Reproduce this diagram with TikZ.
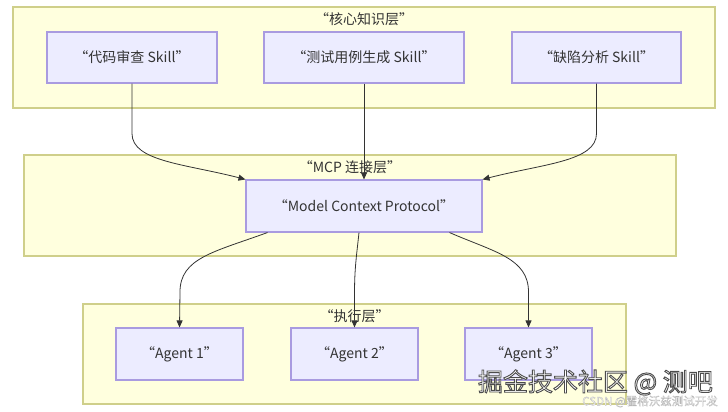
\documentclass[tikz,border=0pt]{standalone}
\usepackage{fontspec}
\setmainfont{Noto Sans CJK SC}
\usetikzlibrary{arrows.meta,calc}
\definecolor{clfill}{HTML}{FFFFDE}
\definecolor{cldraw}{HTML}{CFCF8A}
\definecolor{ndfill}{HTML}{ECECFF}
\definecolor{nddraw}{HTML}{A99BE0}
\definecolor{txt}{HTML}{333333}
\definecolor{edge}{HTML}{333333}
\newcommand{\outlinetext}[2]{\special{pdf:literal direct 2 Tr #1 w #2 G}}
\newcommand{\plaintext}{\special{pdf:literal direct 0 Tr}}
\tikzset{
  cluster/.style={draw=cldraw, fill=clfill, line width=1.4pt, inner sep=0pt},
  nbox/.style={draw=nddraw, fill=ndfill, line width=1.1pt, inner sep=0pt, minimum height=51pt, text=txt, font=\fontsize{14}{16}\selectfont},
  ctitle/.style={text=txt, font=\fontsize{14}{16}\selectfont, inner sep=0pt},
  arr/.style={draw=edge, line width=0.8pt, -{Triangle[length=7pt,width=6pt]}},
}
\begin{document}
\begin{tikzpicture}[x=1pt,y=-1pt]
\useasboundingbox (0,0) rectangle (728,412);
% clusters
\node[cluster, minimum width=702pt, minimum height=101pt] (ck) at (364,57.5) {};
\node[cluster, minimum width=652pt, minimum height=101pt] (cm) at (350,205.5) {};
\node[cluster, minimum width=543pt, minimum height=100pt] (ce) at (354.5,354) {};
\node[ctitle] (tk) at (364,19) {“核心知识层”};
\node[ctitle] (tm) at (350,167) {“MCP 连接层”};
\node[ctitle] (te) at (354.5,316) {“执行层”};
% nodes
\node[nbox, minimum width=170pt] (s1) at (132,57.5) {“代码审查 Skill”};
\node[nbox, minimum width=200pt] (s2) at (364,57.5) {“测试用例生成 Skill”};
\node[nbox, minimum width=169pt] (s3) at (596.5,57.5) {“缺陷分析 Skill”};
\node[nbox, minimum width=236pt, minimum height=52pt] (mcp) at (364,206) {“Model Context Protocol”};
\node[nbox, minimum width=127pt, minimum height=52pt] (a1) at (179.5,354) {“Agent 1”};
\node[nbox, minimum width=127pt, minimum height=52pt] (a2) at (354.5,354) {“Agent 2”};
\node[nbox, minimum width=127pt, minimum height=52pt] (a3) at (528.5,354) {“Agent 3”};
% edges top
\draw[arr] (s1.south) -- ++(0,50) .. controls +(0,28) and (186,164) .. (mcp.north west);
\draw[arr] (s2.south) -- (mcp.north);
\draw[arr] (s3.south) -- ++(0,50) .. controls +(0,28) and (542,164) .. (mcp.north east);
% edges bottom
\draw[arr] ($(mcp.south west)+(22,0)$) .. controls (214,252) and (180,258) .. (180,292) -- (a1.north);
\draw[arr] ($(mcp.south)+(-5,0)$) .. controls (356,260) and (354.5,270) .. (354.5,295) -- (a2.north);
\draw[arr] ($(mcp.south east)+(-33,0)$) .. controls (494,252) and (528.5,258) .. (528.5,292) -- (a3.north);
% watermark
\node[text=white, anchor=east, inner sep=0pt, font=\fontsize{25}{27}\selectfont] (wm) at (713,382.5)
  {\outlinetext{0.9}{0.3}掘金技术社区 @ 测吧\plaintext};
\node[text=white, anchor=east, inner sep=0pt, font=\fontsize{11.5}{13}\selectfont] (wm2) at (718,401.5)
  {\outlinetext{0.3}{0.72}CSDN @霍格沃兹测试开发\plaintext};
\end{tikzpicture}
\end{document}
